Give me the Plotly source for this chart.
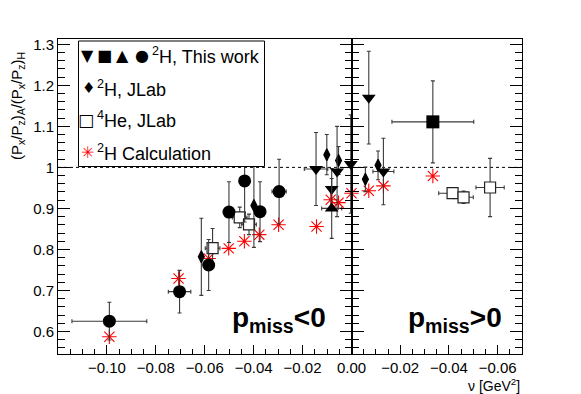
import plotly.graph_objects as go

# ---------------- data ----------------
# 2H, This work -- p_miss < 0 panel
circ_x = [-0.0990, -0.0703, -0.0584, -0.0501, -0.0437, -0.0374, -0.0296]
circ_y = [0.625, 0.697, 0.762, 0.891, 0.967, 0.892, 0.941]
circ_ex = [0.0153, 0.0046, 0.0, 0.0, 0.0, 0.0, 0.0029]
circ_ey = [0.046, 0.052, 0.062, 0.074, 0.100, 0.073, 0.079]

tdn_neg_x = [-0.0145, -0.0081, -0.0059, -0.0003]
tdn_neg_y = [0.996, 0.947, 0.990, 1.008]
tdn_neg_ex = [0.0048, 0.0, 0.0, 0.0]
tdn_neg_ey = [0.089, 0.050, 0.110, 0.120]

tup_neg_x = [-0.0081]
tup_neg_y = [0.900]
tup_neg_ex = [0.0041]
tup_neg_ey = [0.073]

# 2H, This work -- p_miss > 0 panel
tdn_pos_x = [-0.0071, -0.0131]
tdn_pos_y = [1.170, 0.990]
tdn_pos_ex = [0.0, 0.0043]
tdn_pos_ey = [0.113, 0.081]

sq_pos_x = [-0.0334]
sq_pos_y = [1.111]
sq_pos_ex = [0.0168]
sq_pos_ey = [0.100]

# 2H, JLab
jlab_neg_x = [-0.0614, -0.0399, -0.0101, -0.0053]
jlab_neg_y = [0.782, 0.907, 1.031, 1.017]
jlab_neg_ey = [0.094, 0.102, 0.049, 0.034]
jlab_pos_x = [-0.0057, -0.0109]
jlab_pos_y = [0.971, 1.005]
jlab_pos_ey = [0.030, 0.035]

# 4He, JLab
he_neg_x = [-0.0568, -0.0457, -0.0419]
he_neg_y = [0.803, 0.878, 0.861]
he_neg_ex = [0.003, 0.003, 0.003]
he_neg_ey = [0.048, 0.025, 0.025]
he_pos_x = [-0.0415, -0.0460, -0.0569]
he_pos_y = [0.937, 0.927, 0.951]
he_pos_ex = [0.0057, 0.0040, 0.0058]
he_pos_ey = [0.010, 0.015, 0.071]

# 2H Calculation
calc_neg_x = [-0.0990, -0.0707, -0.0584, -0.0502, -0.0438, -0.0377, -0.0298,
              -0.0143, -0.0085, -0.0053, 0.0]
calc_neg_y = [0.587, 0.729, 0.778, 0.8025, 0.820, 0.836, 0.860,
              0.856, 0.921, 0.914, 0.937]
calc_pos_x = [-0.0071, -0.0131, -0.0334]
calc_pos_y = [0.943, 0.955, 0.979]

# axis ticks
xneg_ticks = [-0.10, -0.08, -0.06, -0.04, -0.02, 0.0]
xneg_text = ["\u22120.10", "\u22120.08", "\u22120.06", "\u22120.04", "\u22120.02", "0.00"]
xpos_ticks = [-0.02, -0.04, -0.06]
xpos_text = ["\u22120.02", "\u22120.04", "\u22120.06"]
y_ticks = [0.6, 0.7, 0.8, 0.9, 1.0, 1.1, 1.2, 1.3]
y_text = ["0.6", "0.7", "0.8", "0.9", "1", "1.1", "1.2", "1.3"]

# ---------------- figure ----------------
ERR = "#3a3a3a"
FONT = "Liberation Sans"
RED = "#ff0000"


def err(arr):
    return dict(type="data", array=arr, color=ERR, thickness=1.1, width=2)


fig = go.Figure()


def add(xs, ys, panel, symbol, size, color, ex=None, ey=None, line=None):
    xa, ya = ("x", "y") if panel == 0 else ("x2", "y2")
    m = dict(symbol=symbol, size=size, color=color)
    if line:
        m["line"] = line
    fig.add_trace(go.Scatter(
        x=xs, y=ys, xaxis=xa, yaxis=ya, mode="markers", marker=m,
        error_x=err(ex) if ex is not None else None,
        error_y=err(ey) if ey is not None else None,
        cliponaxis=False, showlegend=False, hoverinfo="skip"))


add(calc_neg_x, calc_neg_y, 0, "asterisk-open", 12, RED, line=dict(color=RED, width=1.1))
add(calc_pos_x, calc_pos_y, 1, "asterisk-open", 12, RED, line=dict(color=RED, width=1.1))

add(he_neg_x, he_neg_y, 0, "square", 11, "white", he_neg_ex, he_neg_ey,
    line=dict(color="#222", width=1.2))
add(he_pos_x, he_pos_y, 1, "square", 11, "white", he_pos_ex, he_pos_ey,
    line=dict(color="#222", width=1.2))

add(jlab_neg_x, jlab_neg_y, 0, "diamond-tall", 8.5, "black", None, jlab_neg_ey,
    line=dict(color="black", width=1.2))
add(jlab_pos_x, jlab_pos_y, 1, "diamond-tall", 8.5, "black", None, jlab_pos_ey,
    line=dict(color="black", width=1.2))

add(circ_x, circ_y, 0, "circle", 13, "black", circ_ex, circ_ey)
add(tdn_neg_x, tdn_neg_y, 0, "triangle-down", 12, "black", tdn_neg_ex, tdn_neg_ey)
add(tup_neg_x, tup_neg_y, 0, "triangle-up", 12, "black", tup_neg_ex, tup_neg_ey)
add(tdn_pos_x, tdn_pos_y, 1, "triangle-down", 12, "black", tdn_pos_ex, tdn_pos_ey)
add(sq_pos_x, sq_pos_y, 1, "square", 13, "black", sq_pos_ex, sq_pos_ey)

# geometry in page pixels (the page body has an 8px margin)
OFF = 8
W, H = 581, 394
L, R, T, B = 58, 59, 39, 40          # frame edges in page pixels
PW, PH = W - L - R, H - T - B
XDIV = 351.5
d = (XDIV - L) / PW


def px(x):
    return (x - L) / PW


def py(y):
    return (H - B - y) / PH


tickfont = dict(family=FONT, size=15, color="black")
common_x = dict(showline=True, linecolor="black", linewidth=1, mirror=True,
                ticks="inside", ticklen=9, tickcolor="black", tickwidth=1,
                showgrid=False, zeroline=False, tickfont=tickfont, tickmode="array",
                automargin=False,
                minor=dict(ticks="inside", ticklen=5, tick0=0, dtick=0.005,
                           tickcolor="black", tickwidth=1, showgrid=False))
common_y = dict(showline=True, linecolor="black", linewidth=1, mirror="ticks",
                ticks="inside", ticklen=12, tickcolor="black", tickwidth=1,
                showgrid=False, zeroline=False, tickfont=tickfont, automargin=False,
                range=[0.545, 1.313], tickmode="array", tickvals=y_ticks,
                minor=dict(ticks="inside", ticklen=7, tick0=0.6, dtick=0.02,
                           tickcolor="black", tickwidth=1, showgrid=False))

fig.update_layout(
    width=W - OFF, height=H - OFF,
    margin=dict(l=L - OFF, r=R, t=T - OFF, b=B, pad=0, autoexpand=False),
    paper_bgcolor="white", plot_bgcolor="white",
    font=dict(family=FONT, color="black"),
    xaxis=dict(domain=[0, d], range=[-0.12, 0.0], anchor="y",
               tickvals=xneg_ticks, ticktext=xneg_text, **common_x),
    xaxis2=dict(domain=[d, 1], range=[0.0, -0.07], anchor="y2",
                tickvals=xpos_ticks, ticktext=xpos_text, **common_x),
    yaxis=dict(anchor="x", ticktext=y_text, **common_y),
    yaxis2=dict(anchor="x2", matches="y", showticklabels=False, **common_y),
)

# dashed reference line at 1
fig.add_shape(type="line", xref="paper", yref="y", x0=0, x1=1, y0=1, y1=1,
              line=dict(color="black", width=1, dash="3px,3px"), layer="below")

# legend box
fig.add_shape(type="rect", xref="paper", yref="paper",
              x0=px(78.5), x1=px(264.5), y0=py(166.5), y1=py(41),
              fillcolor="white", line=dict(color="black", width=1), layer="above")

SYM = "DejaVu Sans"
ann = []
for s, cx in zip(["\u25BC", "\u25A0", "\u25B2", "\u25CF"], [87, 104.5, 122, 141.5]):
    ann.append(dict(text=s, x=px(cx), y=py(55), xanchor="center", yanchor="middle",
                    font=dict(family=SYM, size=16, color="black")))
ann.append(dict(text="\u2666", x=px(88.5), y=py(88), xanchor="center", yanchor="middle",
                font=dict(family=SYM, size=15, color="black")))
ann.append(dict(text="\u25A1", x=px(86), y=py(120), xanchor="center", yanchor="middle",
                font=dict(family=SYM, size=17, color="black")))
ann.append(dict(text="\u2733", x=px(87.5), y=py(152), xanchor="center", yanchor="middle",
                font=dict(family=SYM, size=16, color=RED)))
lf = dict(family=FONT, size=18, color="black")
ann.append(dict(text="<sup>2</sup>H, This work", x=px(150), y=py(55),
                xanchor="left", yanchor="middle", font=lf))
ann.append(dict(text="<sup>2</sup>H, JLab", x=px(95), y=py(88),
                xanchor="left", yanchor="middle", font=lf))
ann.append(dict(text="<sup>4</sup>He, JLab", x=px(95), y=py(120),
                xanchor="left", yanchor="middle", font=lf))
ann.append(dict(text="<sup>2</sup>H Calculation", x=px(95), y=py(152),
                xanchor="left", yanchor="middle", font=lf))

# panel labels
bf = dict(family=FONT, size=28, color="black")
ann.append(dict(text="<b>p<sub>miss</sub>&lt;0</b>", x=px(230), y=py(319),
                xanchor="left", yanchor="middle", font=bf))
ann.append(dict(text="<b>p<sub>miss</sub>&gt;0</b>", x=px(406), y=py(319),
                xanchor="left", yanchor="middle", font=bf))

# axis titles
ann.append(dict(text="(P<sub>x</sub>/P<sub>z</sub>)<sub>A</sub>/(P<sub>x</sub>/P<sub>z</sub>)<sub>H</sub>",
                x=px(17), y=py(106), textangle=-90, xanchor="center", yanchor="middle",
                font=dict(family=FONT, size=15, color="black")))
ann.append(dict(text="\u03BD [GeV<sup>2</sup>]", x=px(522), y=py(385),
                xanchor="right", yanchor="middle",
                font=dict(family=FONT, size=14, color="black")))

for a in ann:
    a.update(xref="paper", yref="paper", showarrow=False)
fig.update_layout(annotations=ann)

fig.write_html("out.html")
